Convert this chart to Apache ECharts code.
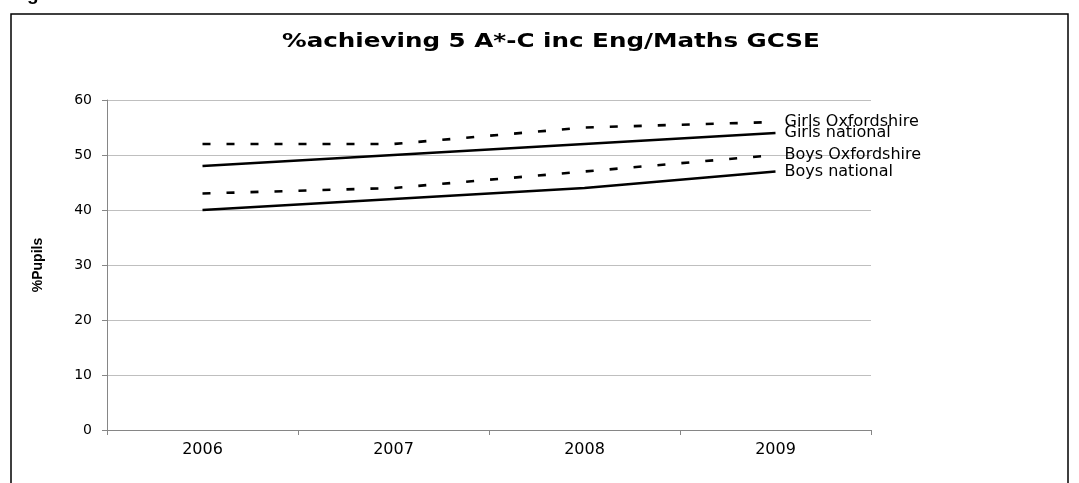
<!DOCTYPE html>
<html lang="en">
<head>
    <meta charset="UTF-8">
    <title>%achieving 5 A*-C inc Eng/Maths GCSE</title>
    <style>
        html, body { margin: 0; padding: 0; background: #fff; }
    </style>
</head>
<body>
    <div id="chart" style="width: 1079px;height: 483px"></div>
</body>
</html>
<script src="https://cdn.jsdelivr.net/npm/echarts@6/dist/echarts.min.js"></script>
<script>
    // data
    var years = ['2006', '2007', '2008', '2009'];
    var girlsOxon = [52, 52, 55, 56];
    var girlsNational = [48, 50, 52, 54];
    var boysOxon = [43, 44, 47, 50];
    var boysNational = [40, 42, 44, 47];
    var yTicks = [0, 10, 20, 30, 40, 50, 60];

    var chart = echarts.init(document.getElementById('chart'));
    var font = 'Liberation Sans, Arial, sans-serif';
    var wide = 'DejaVu Sans, sans-serif';   // the original text is spaced out, this comes closer

    function line(name, values, dashed) {
        return {
            name: name,
            type: 'line',
            data: values,
            symbol: 'none',
            animation: false,
            lineStyle: {
                color: '#000',
                width: 2.6,
                type: dashed ? [8, 16] : 'solid'
            },
            endLabel: {
                show: true,
                formatter: '{a}',
                distance: 9,
                color: '#000',
                fontFamily: wide,
                fontSize: 16
            }
        };
    }

    var option = {
        backgroundColor: '#fff',
        animation: false,
        graphic: [
            {
                type: 'rect',
                shape: { x: 11, y: 14, width: 1057, height: 480 },
                style: { fill: 'none', stroke: '#000', lineWidth: 1.5 },
                silent: true
            },
            {
                type: 'text',
                x: 10,
                y: -15,
                style: { text: 'Figure', fontFamily: font, fontWeight: 'bold', fontSize: 19, fill: '#000' }
            },
            {
                // chart title, stretched to the width of the original
                type: 'text',
                x: 282,
                y: 32,
                scaleX: 1.23,
                style: {
                    text: '%achieving 5 A*-C inc Eng/Maths GCSE',
                    fontFamily: wide,
                    fontWeight: 'bold',
                    fontSize: 20,
                    fill: '#000'
                }
            }
        ],
        grid: { left: 107, right: 208, top: 100, bottom: 53 },
        xAxis: {
            type: 'category',
            data: years,
            boundaryGap: true,
            axisLine: { lineStyle: { color: '#868686', width: 1 } },
            axisTick: { show: true, length: 5, lineStyle: { color: '#868686' } },
            axisLabel: { color: '#000', fontFamily: wide, fontSize: 16, margin: 12 }
        },
        yAxis: {
            type: 'value',
            min: yTicks[0],
            max: yTicks[yTicks.length - 1],
            interval: 10,
            name: '%Pupils',
            nameLocation: 'middle',
            nameGap: 62,
            nameTextStyle: { color: '#000', fontFamily: font, fontWeight: 'bold', fontSize: 14 },
            axisLine: { show: true, lineStyle: { color: '#868686', width: 1 } },
            axisTick: { show: true, length: 5, lineStyle: { color: '#868686' } },
            axisLabel: { color: '#000', fontFamily: wide, fontSize: 14, margin: 15 },
            splitLine: { lineStyle: { color: '#bfbfbf', width: 1 } }
        },
        series: [
            line('Girls Oxfordshire', girlsOxon, true),
            line('Girls national', girlsNational, false),
            line('Boys Oxfordshire', boysOxon, true),
            line('Boys national', boysNational, false)
        ]
    };

    chart.setOption(option);
</script>
